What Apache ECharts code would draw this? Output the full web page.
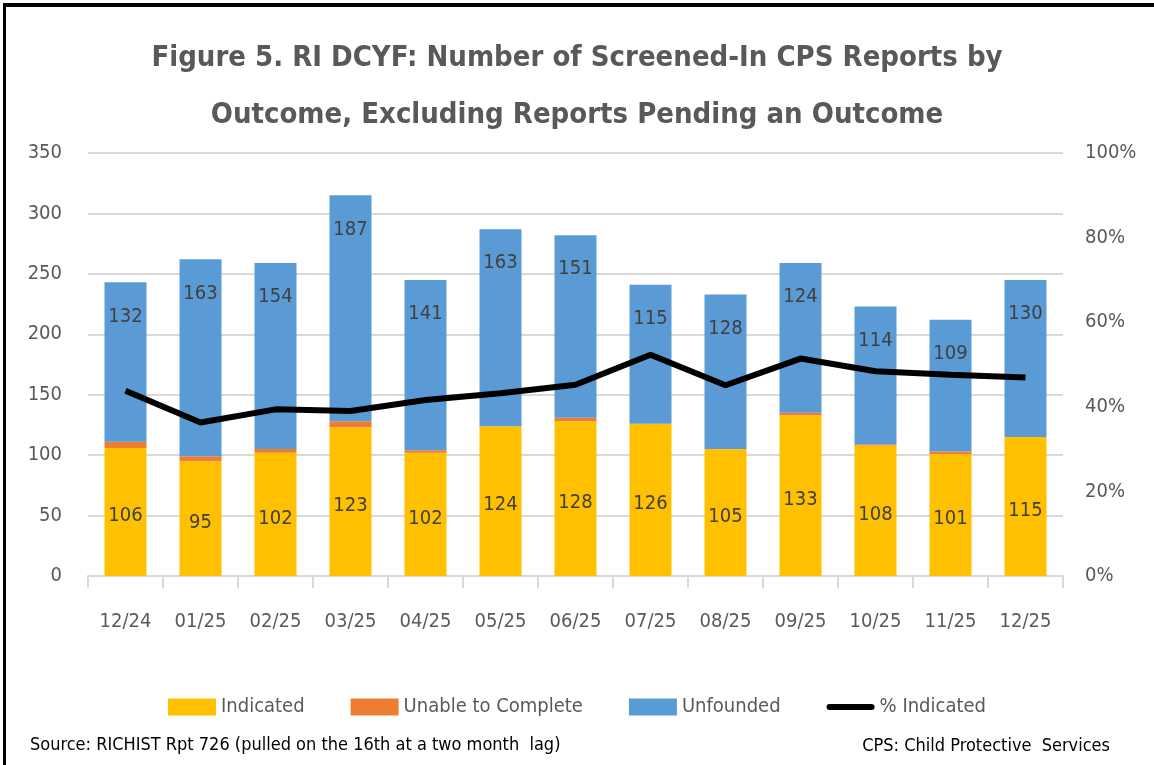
<!DOCTYPE html>
<html>
<head>
<meta charset="utf-8">
<script src="https://cdn.jsdelivr.net/npm/echarts@6/dist/echarts.min.js"></script>
<style>
  html, body { margin: 0; padding: 0; background: #fff; }
  #wrap { position: relative; width: 1154px; height: 765px; overflow: hidden; }
  #chart { width: 1154px; height: 765px; }
  #frame { position: absolute; left: 3px; top: 3px; width: 1160px; height: 780px;
           border-top: 4px solid #000; border-left: 3px solid #000; pointer-events: none; }
</style>
</head>
<body>
<div id="wrap">
  <div id="chart"></div>
  <div id="frame"></div>
</div>
<script>
const months = ["12/24", "01/25", "02/25", "03/25", "04/25", "05/25", "06/25",
  "07/25", "08/25", "09/25", "10/25", "11/25", "12/25"];
const indicated = [106, 95, 102, 123, 102, 124, 128, 126, 105, 133, 108, 101, 115];
const unableToComplete = [5, 4, 3, 5, 2, 0, 3, 0, 0, 2, 1, 2, 0];
const unfounded = [132, 163, 154, 187, 141, 163, 151, 115, 128, 124, 114, 109, 130];
const pctIndicated = [0.438, 0.363, 0.394, 0.39, 0.416, 0.432, 0.452, 0.523, 0.451, 0.514, 0.484, 0.476, 0.469];

const font = "'DejaVu Sans Condensed', 'Liberation Sans', sans-serif";
const grey = "#595959";

const myChart = echarts.init(document.getElementById("chart"));

const option = {
  animation: false,
  textStyle: { fontFamily: font },
  title: {
    text: "Figure 5. RI DCYF: Number of Screened-In CPS Reports by\nOutcome, Excluding Reports Pending an Outcome",
    left: "center",
    top: 25,
    textStyle: { fontFamily: font, fontSize: 29, fontWeight: "bold", color: grey, lineHeight: 57 },
  },
  grid: { left: 88, right: 91, top: 153, bottom: 189 },
  legend: {
    bottom: 43,
    left: "center",
    itemWidth: 48,
    itemHeight: 17,
    itemGap: 46,
    textStyle: { fontFamily: font, fontSize: 20, color: grey },
    data: [
      { name: "Indicated", icon: "rect" },
      { name: "Unable to Complete", icon: "rect" },
      { name: "Unfounded", icon: "rect" },
      { name: "% Indicated", icon: "path://M3,0 L45,0 A3,3 0 0 1 45,6 L3,6 A3,3 0 0 1 3,0 Z" },
    ],
  },
  graphic: [
    {
      type: "text", left: 30, top: 736,
      style: { text: "Source: RICHIST Rpt 726 (pulled on the 16th at a two month  lag)", fontFamily: font, fontSize: 18, fill: "#000" },
    },
    {
      type: "text", right: 44, top: 737,
      style: { text: "CPS: Child Protective  Services", fontFamily: font, fontSize: 18, fill: "#000" },
    },
  ],
  xAxis: {
    type: "category",
    data: months,
    axisLine: { lineStyle: { color: "#d9d9d9", width: 2 } },
    axisTick: { show: true, length: 12, lineStyle: { color: "#d9d9d9", width: 2 } },
    axisLabel: { interval: 0, fontFamily: font, fontSize: 20, color: grey, margin: 36 },
  },
  yAxis: [
    {
      type: "value",
      min: 0, max: 350, interval: 50,
      axisLine: { show: false },
      axisTick: { show: false },
      splitLine: { lineStyle: { color: "#d9d9d9", width: 2 } },
      axisLabel: { fontFamily: font, fontSize: 20, color: grey, margin: 26 },
    },
    {
      type: "value",
      min: 0, max: 1, interval: 0.2,
      axisLine: { show: false },
      axisTick: { show: false },
      splitLine: { show: false },
      axisLabel: {
        fontFamily: font, fontSize: 20, color: grey, margin: 22,
        formatter: (v) => Math.round(v * 100) + "%",
      },
    },
  ],
  series: [
    {
      name: "Indicated",
      type: "bar",
      stack: "total",
      data: indicated,
      barWidth: 42,
      itemStyle: { color: "#ffc000" },
      label: { show: true, position: "inside", offset: [0, 4], fontFamily: font, fontSize: 20, color: "#404040" },
    },
    {
      name: "Unable to Complete",
      type: "bar",
      stack: "total",
      data: unableToComplete,
      itemStyle: { color: "#ed7d31" },
    },
    {
      name: "Unfounded",
      type: "bar",
      stack: "total",
      data: unfounded,
      itemStyle: { color: "#5b9bd5" },
      label: { show: true, position: "insideTop", distance: 24, fontFamily: font, fontSize: 20, color: "#404040" },
    },
    {
      name: "% Indicated",
      type: "line",
      yAxisIndex: 1,
      data: pctIndicated,
      symbol: "none",
      itemStyle: { color: "#000" },
      lineStyle: { color: "#000", width: 6 },
      z: 5,
    },
  ],
};

myChart.setOption(option);
</script>
</body>
</html>
